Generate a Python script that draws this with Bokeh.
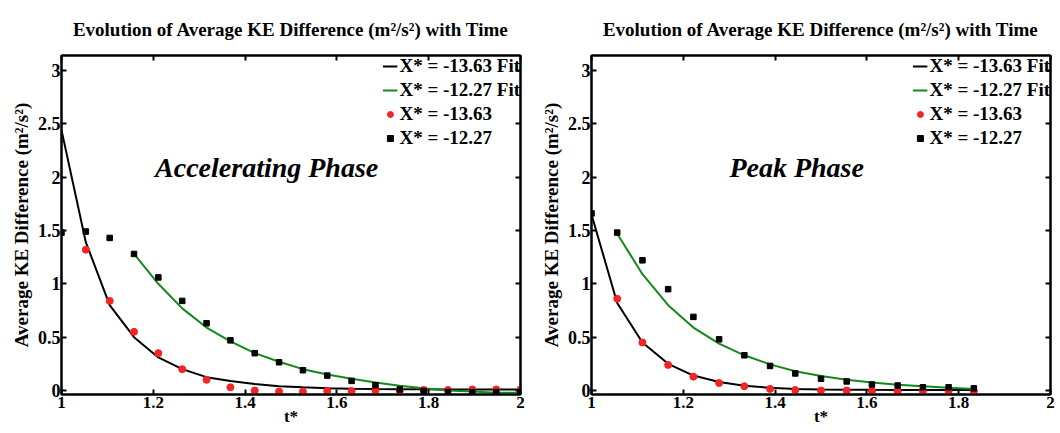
from bokeh.plotting import figure
from bokeh.models import (Range1d, FixedTicker, LinearAxis, Legend, LegendItem,
                          Label, CustomJSTickFormatter)
from bokeh.layouts import row
from bokeh.embed import file_html
from bokeh.resources import INLINE

# ---------------- data ----------------
x_ticks = [1, 1.2, 1.4, 1.6, 1.8, 2]
x_tick_labels = ["1", "1.2", "1.4", "1.6", "1.8", "2"]
y_ticks = [0, 0.5, 1, 1.5, 2, 2.5, 3]
y_tick_labels = ["0", "0.5", "1", "1.5", "2", "2.5", "3"]

title_text = "Evolution of Average KE Difference (m\u00b2/s\u00b2) with Time"
y_label = "Average KE Difference (m\u00b2/s\u00b2)"
x_label = "t*"
legend_labels = ["X* = -13.63 Fit", "X* = -12.27 Fit", "X* = -13.63", "X* = -12.27"]

# Accelerating phase (left)
t_left = [1.0, 1.053, 1.105, 1.158, 1.211, 1.263, 1.316, 1.368, 1.421, 1.474,
          1.526, 1.579, 1.632, 1.684, 1.737, 1.789, 1.842, 1.895, 1.947, 2.0]
acc_fit_1363 = [2.44, 1.39, 0.80, 0.50, 0.31, 0.20, 0.125, 0.088, 0.06, 0.04,
                0.03, 0.022, 0.017, 0.014, 0.012, 0.011, 0.01, 0.01, 0.01, 0.01]
acc_pts_1363 = [1.32, 0.84, 0.55, 0.35, 0.20, 0.10, 0.03, 0.0, -0.01, -0.01,
                -0.005, -0.005, 0.0, 0.0, 0.005, 0.005, 0.01, 0.01, 0.01]  # t_left[1:]
acc_pts_1227 = [1.48, 1.49, 1.43, 1.28, 1.06, 0.84, 0.63, 0.47, 0.35, 0.265,
                0.19, 0.14, 0.09, 0.05, 0.01, -0.005, -0.015, -0.015, -0.015, -0.015]
acc_fit_1227 = [1.28, 1.0, 0.77, 0.59, 0.46, 0.35, 0.27, 0.20, 0.15, 0.11,
                0.075, 0.045, 0.02, 0.0, -0.01, -0.02, -0.02]  # t_left[3:]

# Peak phase (right)
t_right = [1.0, 1.056, 1.111, 1.167, 1.222, 1.278, 1.333, 1.389, 1.444, 1.5,
           1.556, 1.611, 1.667, 1.722, 1.778, 1.833]
peak_fit_1363 = [1.65, 0.82, 0.45, 0.25, 0.14, 0.08, 0.045, 0.025, 0.015, 0.01,
                 0.008, 0.006, 0.005, 0.005, 0.005, 0.005]
peak_pts_1363 = [0.86, 0.45, 0.24, 0.13, 0.07, 0.04, 0.015, 0.005, 0.0, 0.0,
                 -0.005, -0.005, -0.005, -0.005, -0.005]  # t_right[1:]
peak_pts_1227 = [1.66, 1.48, 1.22, 0.95, 0.69, 0.48, 0.33, 0.23, 0.16, 0.11,
                 0.085, 0.056, 0.047, 0.03, 0.03, 0.02]
peak_fit_1227 = [1.47, 1.09, 0.80, 0.59, 0.44, 0.33, 0.245, 0.18, 0.135, 0.10,
                 0.075, 0.055, 0.04, 0.025, 0.015]  # t_right[1:]

FONT = "Liberation Serif"
GREEN = "#13891a"
RED = "#f22424"


def make_panel(t, fit_a, pts_a, pts_b, fit_b, a_start, b_start, phase_text):
    p = figure(width=530, height=433, output_backend="svg", toolbar_location=None,
               x_range=Range1d(1, 2), y_range=Range1d(-0.0375, 3.14),
               min_border_left=61, min_border_right=10, min_border_top=55,
               min_border_bottom=39)
    p.grid.grid_line_color = None
    p.outline_line_color = "black"
    p.outline_line_width = 2
    p.background_fill_color = "white"
    p.border_fill_color = "white"

    p.title.text = title_text
    p.title.text_font = FONT
    p.title.text_font_style = "bold"
    p.title.text_font_size = "19px"
    p.title.text_color = "black"
    p.title.align = "center"
    p.title.standoff = 31

    for ax, ticks, labels in ((p.xaxis[0], x_ticks, x_tick_labels),
                              (p.yaxis[0], y_ticks, y_tick_labels)):
        ax.ticker = FixedTicker(ticks=ticks)
        ax.major_label_overrides = {k: v for k, v in zip(ticks, labels)}
        ax.axis_line_width = 2
        ax.major_tick_in = 5
        ax.major_tick_out = 0
        ax.major_tick_line_width = 2
        ax.minor_tick_line_color = None
        ax.major_label_text_font = FONT
        ax.major_label_text_font_style = "bold"
        ax.major_label_text_font_size = "18px"
        ax.major_label_text_color = "black"
        ax.axis_label_text_font = FONT
        ax.axis_label_text_font_style = "bold"
        ax.axis_label_text_font_size = "19px"
        ax.axis_label_text_color = "black"
    p.xaxis[0].axis_label = x_label
    p.xaxis[0].major_label_text_font_size = "17px"
    p.xaxis[0].axis_label_text_font_size = "17px"
    p.xaxis[0].major_label_standoff = 2
    p.xaxis[0].axis_label_standoff = -4
    p.yaxis[0].axis_label = y_label
    p.yaxis[0].major_label_standoff = 1
    p.yaxis[0].axis_label_standoff = 3

    blank = CustomJSTickFormatter(code="return ''")
    top = LinearAxis(ticker=FixedTicker(ticks=x_ticks), formatter=blank,
                     major_tick_in=5, major_tick_out=0, major_tick_line_width=2,
                     minor_tick_line_color=None, axis_line_width=2,
                     major_label_standoff=0)
    right = LinearAxis(ticker=FixedTicker(ticks=y_ticks), formatter=blank,
                       major_tick_in=5, major_tick_out=0, major_tick_line_width=2,
                       minor_tick_line_color=None, axis_line_width=2,
                       major_label_standoff=0)
    p.add_layout(top, "above")
    p.add_layout(right, "right")

    r_fa = p.line(t[:len(fit_a)], fit_a, line_color="black", line_width=2)
    r_fb = p.line(t[b_start:b_start + len(fit_b)], fit_b, line_color=GREEN, line_width=2)
    r_pa = p.scatter(t[a_start:a_start + len(pts_a)], pts_a, marker="circle", size=7,
                     fill_color=RED, line_color=RED)
    r_pb = p.scatter(t[:len(pts_b)], pts_b, marker="square", size=5.5,
                     fill_color="black", line_color="black")

    legend = Legend(items=[LegendItem(label=legend_labels[0], renderers=[r_fa]),
                           LegendItem(label=legend_labels[1], renderers=[r_fb]),
                           LegendItem(label=legend_labels[2], renderers=[r_pa]),
                           LegendItem(label=legend_labels[3], renderers=[r_pb])],
                    location="top_right", margin=0, padding=0,
                    border_line_color=None, background_fill_alpha=0,
                    label_text_font=FONT, label_text_font_style="bold",
                    label_text_font_size="19px", label_text_color="black",
                    glyph_width=15, glyph_height=20, label_height=20,
                    label_standoff=2, spacing=2)
    p.add_layout(legend)

    p.add_layout(Label(x=1.447, y=2.09, text=phase_text, text_align="center",
                       text_baseline="middle", text_font=FONT,
                       text_font_style="bold italic", text_font_size="28px",
                       text_color="black"))
    return p


p1 = make_panel(t_left, acc_fit_1363, acc_pts_1363, acc_pts_1227, acc_fit_1227,
                1, 3, "Accelerating Phase")
p2 = make_panel(t_right, peak_fit_1363, peak_pts_1363, peak_pts_1227, peak_fit_1227,
                1, 1, "Peak Phase")

layout = row(p1, p2)
open("out.html", "w").write(file_html(layout, INLINE))
